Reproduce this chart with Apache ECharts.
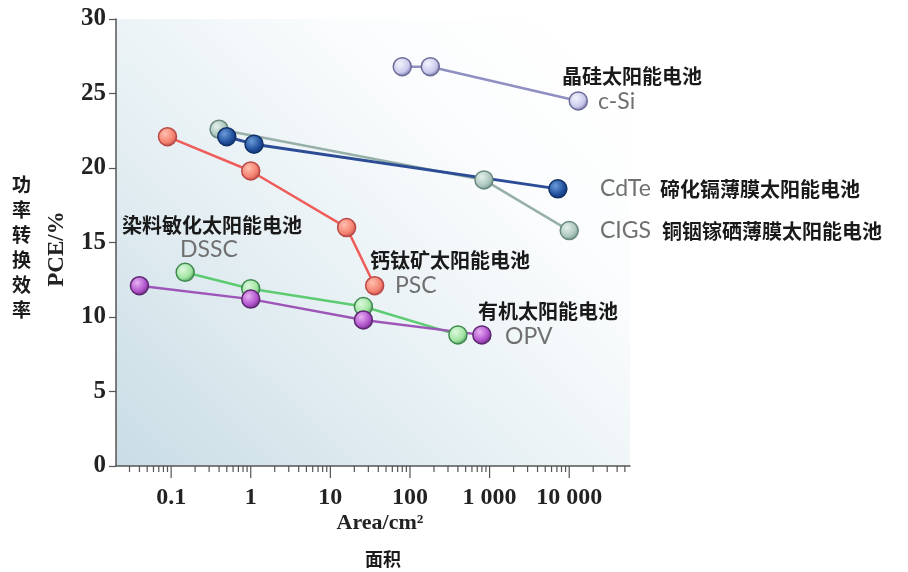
<!DOCTYPE html>
<html>
<head>
<meta charset="utf-8">
<title>PCE vs Area</title>
<script src="https://cdn.jsdelivr.net/npm/echarts@6/dist/echarts.min.js"></script>
<style>
  html, body { margin: 0; padding: 0; background: #ffffff; }
  #chart { width: 908px; height: 572px; }
</style>
</head>
<body>
<div id="chart"></div>
<script>
// Efficiency (PCE, %) versus cell area (cm^2) for several solar-cell technologies
const cSiArea  = [80, 180, 13000];
const cSiPCE   = [26.8, 26.8, 24.5];
const cigsArea = [0.4, 850, 10000];
const cigsPCE  = [22.6, 19.2, 15.8];
const cdteArea = [0.5, 1.1, 7200];
const cdtePCE  = [22.1, 21.6, 18.6];
const pscArea  = [0.09, 1, 16, 36];
const pscPCE   = [22.1, 19.8, 16.0, 12.1];
const dsscArea = [0.15, 1, 26, 400];
const dsscPCE  = [13.0, 11.9, 10.7, 8.8];
const opvArea  = [0.04, 1, 26, 800];
const opvPCE   = [12.1, 11.2, 9.8, 8.8];

// Axis ticks
const xMajorTicks = [0.1, 1, 10, 100, 1000, 10000];
const xMinorSteps = [2, 3, 4, 5, 6, 7, 8, 9];
const yTicks = [0, 5, 10, 15, 20, 25, 30];

const X_MIN = 0.0203, X_MAX = 58000;

function pairs(xs, ys) { return xs.map((x, i) => [x, ys[i]]); }

// major + minor ticks of the logarithmic area axis
const tickData = [];
[0.01].concat(xMajorTicks).forEach(d => {
  if (d >= X_MIN && d <= X_MAX) tickData.push([d, 1]);
  xMinorSteps.forEach(m => {
    const v = +(m * d).toPrecision(6);
    if (v >= X_MIN && v <= X_MAX) tickData.push([v, 0]);
  });
});

function ball(light, base, edge) {
  return {
    color: new echarts.graphic.RadialGradient(0.38, 0.35, 0.7, [
      { offset: 0, color: light },
      { offset: 0.65, color: base },
      { offset: 1, color: edge }
    ]),
    borderColor: edge,
    borderWidth: 1.5
  };
}

function lineSeries(name, xs, ys, lineColor, light, base, edge, width) {
  return {
    name: name,
    type: 'line',
    data: pairs(xs, ys),
    symbol: 'circle',
    symbolSize: 18,
    lineStyle: { color: lineColor, width: width || 2.5 },
    itemStyle: ball(light, base, edge),
    emphasis: { disabled: true },
    z: 3
  };
}

const chart = echarts.init(document.getElementById('chart'), null, { renderer: 'canvas' });

const serifBold = { fontFamily: 'Liberation Serif', fontWeight: 'bold', color: '#222' };
const cjk = 'Noto Sans CJK SC';

function cnText(x, y, text) {
  return {
    type: 'text', x: x, y: y,
    style: { text: text, font: 'bold 20px "' + cjk + '"', fill: '#1a1a1a', align: 'left', verticalAlign: 'middle' },
    z: 10
  };
}
function abbrText(x, y, text) {
  return {
    type: 'text', x: x, y: y,
    style: { text: text, font: '23px Lato', fill: '#707070', align: 'left', verticalAlign: 'middle' },
    z: 10
  };
}

chart.setOption({
  animation: false,
  grid: {
    left: 116, right: 278, top: 19, bottom: 106,
    show: true,
    borderWidth: 0,
    backgroundColor: new echarts.graphic.LinearGradient(0, 1, 0.85, 0, [
      { offset: 0, color: '#c9dce5' },
      { offset: 0.4, color: '#e5eff3' },
      { offset: 0.75, color: '#fafcfd' },
      { offset: 1, color: '#ffffff' }
    ])
  },
  xAxis: {
    type: 'log',
    logBase: 10,
    min: X_MIN,
    max: X_MAX,
    axisLine: { show: true, lineStyle: { color: '#555', width: 1.5 } },
    axisTick: { show: false },
    splitLine: { show: false },
    axisLabel: Object.assign({
      fontSize: 24,
      margin: 20,
      showMinLabel: false,
      showMaxLabel: false,
      formatter: function (v) {
        const hit = xMajorTicks.find(t => Math.abs(Math.log10(v) - Math.log10(t)) < 1e-6);
        if (hit === undefined) return '';
        if (hit >= 1000) return String(hit).replace(/\B(?=(\d{3})+(?!\d))/g, ' ');
        return String(hit);
      }
    }, serifBold)
  },
  yAxis: {
    type: 'value',
    min: yTicks[0],
    max: yTicks[yTicks.length - 1],
    interval: 5,
    axisLine: { show: true, lineStyle: { color: '#555', width: 1.5 } },
    axisTick: { show: true, length: 7, lineStyle: { color: '#555', width: 1.2 } },
    splitLine: { show: false },
    axisLabel: Object.assign({ fontSize: 25, margin: 10 }, serifBold)
  },
  series: [
    lineSeries('c-Si', cSiArea, cSiPCE, '#8f8fc2', '#f4f4ff', '#c9c9ec', '#6b6b9a'),
    lineSeries('CIGS', cigsArea, cigsPCE, '#97b0a8', '#e4f0ec', '#aac6bd', '#6a8980'),
    lineSeries('CdTe', cdteArea, cdtePCE, '#2c4c96', '#6b9ad8', '#1f4f9c', '#102f66', 3),
    lineSeries('PSC', pscArea, pscPCE, '#ef5d5b', '#ffc0b0', '#f4806f', '#b84848'),
    lineSeries('DSSC', dsscArea, dsscPCE, '#5ccb72', '#dcf8dc', '#a0e4a0', '#3f8a50'),
    lineSeries('OPV', opvArea, opvPCE, '#9d55b8', '#e8b0f2', '#b052cc', '#5c2870'),
    {
      name: 'xTicks',
      type: 'custom',
      coordinateSystem: 'cartesian2d',
      silent: true,
      clip: false,
      z: 2,
      data: tickData,
      renderItem: function (params, api) {
        const p = api.coord([api.value(0), 0]);
        const len = api.value(1) ? 12 : 6;
        return {
          type: 'line',
          shape: { x1: p[0], y1: p[1], x2: p[0], y2: p[1] + len },
          style: { stroke: '#555', lineWidth: 1.2 }
        };
      }
    }
  ],
  graphic: [
    // axis titles
    {
      type: 'text', left: 12, top: 172,
      style: { text: '功\n率\n转\n换\n效\n率', font: 'bold 19px "' + cjk + '"', fill: '#1a1a1a', lineHeight: 25 },
      z: 10
    },
    {
      type: 'text', x: 57, y: 249, rotation: Math.PI / 2,
      style: { text: 'PCE/%', font: 'bold 23px "Liberation Serif"', fill: '#222', align: 'center', verticalAlign: 'middle' },
      z: 10
    },
    {
      type: 'text', x: 380, y: 523,
      style: { text: 'Area/cm²', font: 'bold 22px "Liberation Serif"', fill: '#222', align: 'center', verticalAlign: 'middle' },
      z: 10
    },
    {
      type: 'text', x: 383, y: 559,
      style: { text: '面积', font: 'bold 18px "' + cjk + '"', fill: '#1a1a1a', align: 'center', verticalAlign: 'middle' },
      z: 10
    },
    // technology names
    cnText(562, 76, '晶硅太阳能电池'),
    abbrText(598, 102, 'c-Si'),
    abbrText(600, 189, 'CdTe'),
    cnText(660, 189, '碲化镉薄膜太阳能电池'),
    abbrText(600, 231, 'CIGS'),
    cnText(662, 231, '铜铟镓硒薄膜太阳能电池'),
    cnText(122, 225, '染料敏化太阳能电池'),
    abbrText(180, 250, 'DSSC'),
    cnText(370, 260, '钙钛矿太阳能电池'),
    abbrText(395, 286, 'PSC'),
    cnText(478, 311, '有机太阳能电池'),
    abbrText(505, 337, 'OPV')
  ]
});
</script>
</body>
</html>
